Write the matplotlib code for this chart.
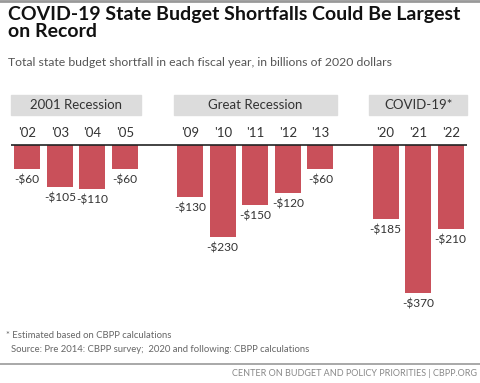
import matplotlib
matplotlib.use('Agg')
import matplotlib.pyplot as plt
from matplotlib.patches import Rectangle
from matplotlib.lines import Line2D

plt.rcParams['font.family'] = ['Lato', 'DejaVu Sans']

# data
years = ["'02", "'03", "'04", "'05", "'09", "'10", "'11", "'12", "'13", "'20", "'21", "'22"]
slots = [0, 1, 2, 3, 5, 6, 7, 8, 9, 11, 12, 13]
shortfall = [-60, -105, -110, -60, -130, -230, -150, -120, -60, -185, -370, -210]
groups = ['2001 Recession', 'Great Recession', 'COVID-19*']
group_start = [-0.5, 4.5, 10.5]
group_end = [3.5, 9.5, 13.5]

W, H = 480, 383
fig = plt.figure(figsize=(W / 100, H / 100), dpi=100)

# axes: baseline at 145px, 0.4 px per unit
ax = fig.add_axes([11 / W, 1 - 320 / H, 456 / W, (320 - 93) / H])
ax.set_xlim(-0.5, 13.5)
ax.set_ylim(-437.5, 130)
ax.axis('off')

bar_color = '#C9505A'
ax.bar(slots, shortfall, width=0.8, color=bar_color, zorder=2)
ax.axhline(0, color='#222222', lw=1.2, zorder=3)

for x, v, yr in zip(slots, shortfall, years):
    ax.text(x, 30, yr, ha='center', va='center', fontsize=9.5, color='#333333')
    ax.annotate('-$%d' % abs(v), (x, v), xytext=(0, -4), textcoords='offset points',
                ha='center', va='top', fontsize=8.6, color='#333333')

for name, a, b in zip(groups, group_start, group_end):
    ax.add_patch(Rectangle((a, 75), b - a, 50, color='#DCDCDC', clip_on=False, zorder=1))
    ax.text((a + b) / 2, 100, name, ha='center', va='center', fontsize=9.5, color='#333333')

# title block
fig.text(8 / W, 1 - 6 / H, 'COVID-19 State Budget Shortfalls Could Be Largest\non Record',
         ha='left', va='top', fontsize=14, fontweight='bold', color='#111111', linespacing=1.0)
fig.text(8 / W, 1 - 62 / H, 'Total state budget shortfall in each fiscal year, in billions of 2020 dollars',
         ha='left', va='center', fontsize=8.8, color='#555555')

# notes
fig.text(6 / W, 1 - 335 / H, '* Estimated based on CBPP calculations',
         ha='left', va='center', fontsize=6.8, color='#666666')
fig.text(11 / W, 1 - 350 / H, 'Source: Pre 2014: CBPP survey;  2020 and following: CBPP calculations',
         ha='left', va='center', fontsize=6.8, color='#666666')
fig.text(477 / W, 1 - 373 / H, 'CENTER ON BUDGET AND POLICY PRIORITIES | CBPP.ORG',
         ha='right', va='center', fontsize=6.5, color='#888888')

fig.add_artist(Line2D([0, 1], [1 - 364 / H, 1 - 364 / H], color='#999999', lw=1.2))
fig.add_artist(Line2D([0, 1], [1 - 1 / H, 1 - 1 / H], color='#999999', lw=2))

fig.savefig('out.png', dpi=100)
